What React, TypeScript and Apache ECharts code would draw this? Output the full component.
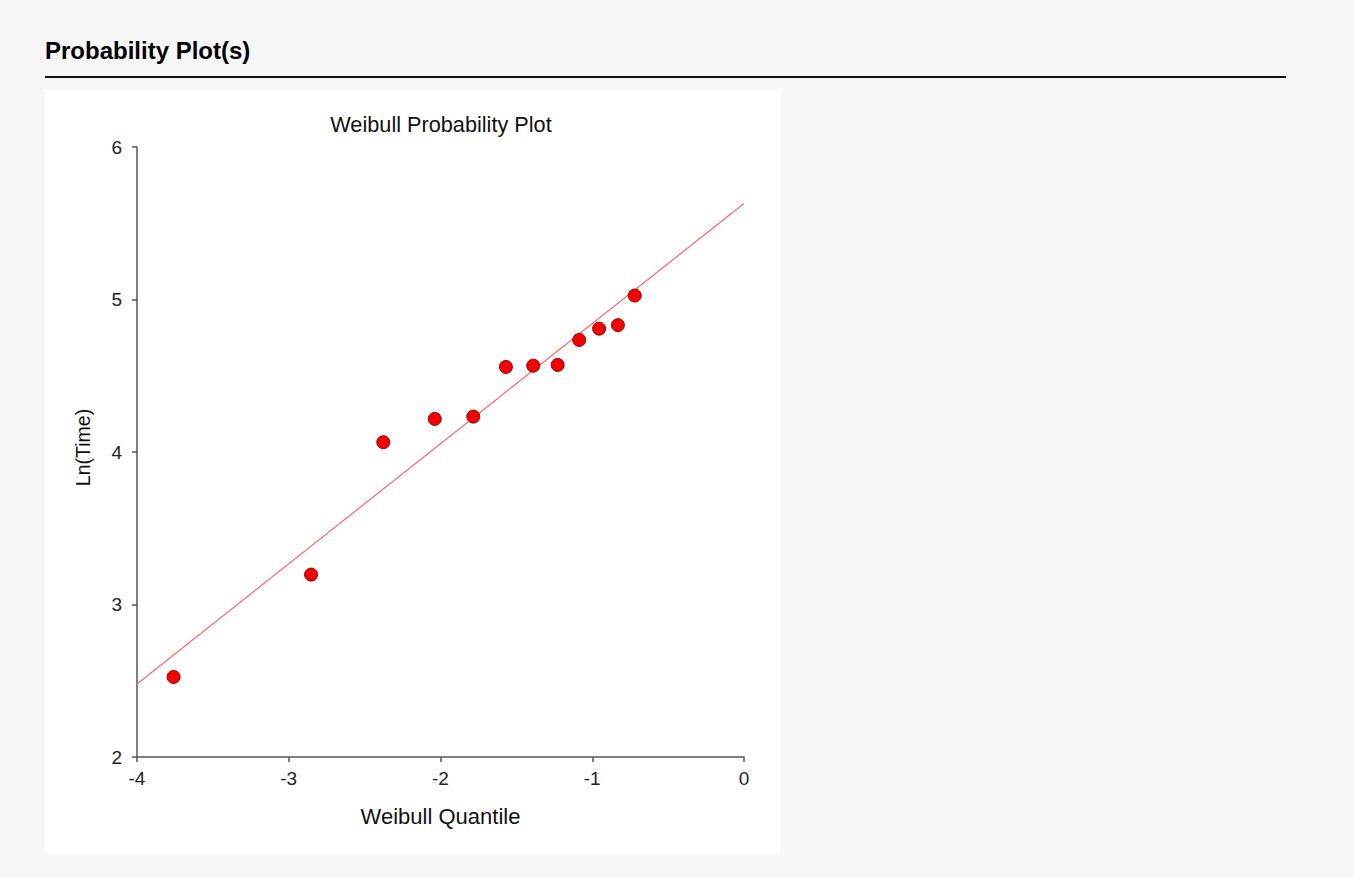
import React, { useEffect, useRef } from "react";
import * as echarts from "echarts";

const quantiles = [-3.759, -2.853, -2.377, -2.038, -1.784, -1.569, -1.389, -1.228, -1.086, -0.955, -0.831, -0.72];
const lnTime = [2.525, 3.196, 4.064, 4.217, 4.232, 4.558, 4.566, 4.571, 4.735, 4.809, 4.832, 5.026];
const fitX = [-4, 0];
const fitY = [2.479, 5.63];
const xTicks = [-4, -3, -2, -1, 0];
const yTicks = [2, 3, 4, 5, 6];

const FONT = "'Liberation Sans', Arial, sans-serif";

export default function App() {
  const ref = useRef<HTMLDivElement>(null);
  useEffect(() => {
    document.body.style.margin = "0";
    const chart = echarts.init(ref.current!, null, { renderer: "svg" });
    chart.setOption({
      animation: false,
      backgroundColor: "#f6f6f6",
      graphic: [
        { type: "rect", z: -10, shape: { x: 45, y: 90, width: 736, height: 765 }, style: { fill: "#ffffff" } },
        {
          type: "text",
          x: 45,
          y: 50,
          style: { text: "Probability Plot(s)", font: `bold 24px ${FONT}`, fill: "#000", align: "left", verticalAlign: "middle" },
        },
        { type: "line", shape: { x1: 45, y1: 77, x2: 1286, y2: 77 }, style: { stroke: "#111", lineWidth: 2 } },
        {
          type: "text",
          x: 441,
          y: 124,
          style: { text: "Weibull Probability Plot", font: `21.7px ${FONT}`, fill: "#111", align: "center", verticalAlign: "middle" },
        },
        {
          type: "text",
          x: 83,
          y: 447.5,
          rotation: Math.PI / 2,
          style: { text: "Ln(Time)", font: `19.5px ${FONT}`, fill: "#111", align: "center", verticalAlign: "middle" },
        },
      ],
      grid: { left: 137, right: 610, top: 147, bottom: 121 },
      xAxis: {
        type: "value",
        min: xTicks[0],
        max: xTicks[xTicks.length - 1],
        interval: 1,
        name: "Weibull Quantile",
        nameLocation: "middle",
        nameGap: 48,
        nameTextStyle: { fontFamily: FONT, fontSize: 22, color: "#111" },
        axisLine: { onZero: false, lineStyle: { color: "#555", width: 1.5 } },
        axisTick: { show: true, length: 5, lineStyle: { color: "#555", width: 1.5 } },
        axisLabel: { fontFamily: FONT, fontSize: 19, color: "#222", margin: 12 },
        splitLine: { show: false },
      },
      yAxis: {
        type: "value",
        min: yTicks[0],
        max: yTicks[yTicks.length - 1],
        interval: 1,
        axisLine: { show: true, onZero: false, lineStyle: { color: "#555", width: 1.5 } },
        axisTick: { show: true, length: 5, lineStyle: { color: "#555", width: 1.5 } },
        axisLabel: { fontFamily: FONT, fontSize: 19, color: "#222", margin: 15 },
        splitLine: { show: false },
      },
      series: [
        {
          type: "line",
          data: fitX.map((x, i) => [x, fitY[i]]),
          showSymbol: false,
          symbol: "none",
          lineStyle: { color: "#ff6464", width: 1.2 },
          z: 1,
        },
        {
          type: "scatter",
          data: quantiles.map((x, i) => [x, lnTime[i]]),
          symbol: "circle",
          symbolSize: 13,
          itemStyle: { color: "#f50000", borderColor: "#990000", borderWidth: 1, opacity: 1 },
          z: 3,
        },
      ],
    });
    return () => chart.dispose();
  }, []);
  return <div ref={ref} style={{ width: 1354, height: 878 }} />;
}
